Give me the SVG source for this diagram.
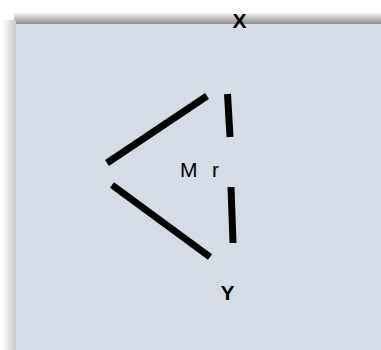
<svg xmlns="http://www.w3.org/2000/svg" width="381" height="350" viewBox="0 0 381 350">
<defs>
<linearGradient id="topShadow" x1="0" y1="0" x2="0" y2="1">
<stop offset="0" stop-color="#ffffff"/>
<stop offset="0.6" stop-color="#b8b8b8"/>
<stop offset="1" stop-color="#909090"/>
</linearGradient>
<linearGradient id="leftShadow" x1="0" y1="0" x2="1" y2="0">
<stop offset="0" stop-color="#ffffff"/>
<stop offset="1" stop-color="#c8c8c8"/>
</linearGradient>
<style>
.edge{stroke:#000;stroke-width:7;stroke-linecap:butt;fill:none}
.lbl{font-family:"Liberation Sans",Arial,sans-serif;fill:#000}
.bold{font-weight:bold}
</style>
</defs>
<rect width="381" height="350" fill="#ffffff"/>
<g id="panel">
<rect x="14" y="12" width="367" height="12" fill="url(#topShadow)"/>
<rect x="2" y="20" width="14" height="330" fill="url(#leftShadow)"/>
<rect x="16" y="24" width="365" height="326" fill="#d6dce5"/>
</g>
<g id="connectors">
<line class="edge" x1="107" y1="163" x2="207" y2="96"/>
<line class="edge" x1="227.5" y1="94" x2="230" y2="137"/>
<line class="edge" x1="112" y1="185" x2="210" y2="257"/>
<line class="edge" x1="231" y1="187" x2="233" y2="243"/>
</g>
<g id="nodeX"><text class="lbl bold" x="232.5" y="27.5" font-size="21">X</text></g>
<g id="nodeM"><text class="lbl" y="176.5" font-size="21"><tspan x="180">M</tspan><tspan x="212">r</tspan></text></g>
<g id="nodeY"><text class="lbl bold" x="220.5" y="299.5" font-size="21">Y</text></g>
</svg>
